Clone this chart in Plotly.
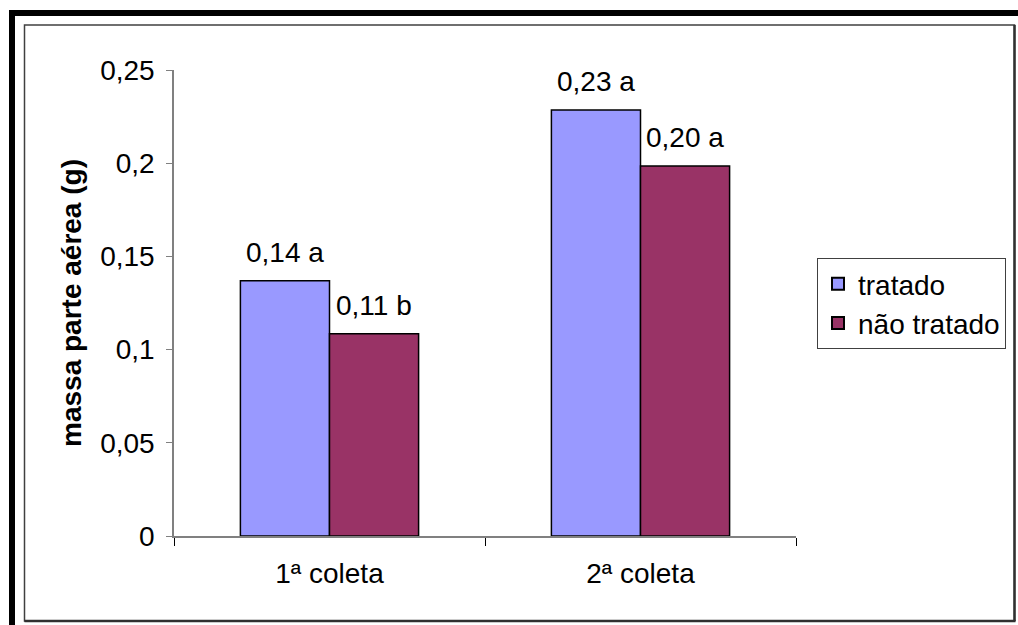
import plotly.graph_objects as go

# Data: shoot mass (g) per sampling and treatment, with significance letters
coletas = ["1ª coleta", "2ª coleta"]
tratado = [0.137, 0.2285]
nao_tratado = [0.1085, 0.1985]
letras_tratado = ["a", "a"]
letras_nao_tratado = ["b", "a"]
series_names = ["tratado", "não tratado"]
y_ticks = [0, 0.05, 0.1, 0.15, 0.2, 0.25]

W, H = 1018, 625
M_L, M_R, M_T, M_B = 174, 222, 70, 89
BARGAP = 0.427
FONT = "Liberation Sans, Arial, sans-serif"
FS = 28

fig = go.Figure()
colors = ["#9999FF", "#993366"]
for name, vals, col in zip(series_names, [tratado, nao_tratado], colors):
    fig.add_trace(go.Bar(
        x=coletas, y=vals, name=name,
        marker=dict(color=col, line=dict(color="black", width=1.5)),
    ))

# value labels above each bar, centred on the bar inside its group
plot_w = W - M_L - M_R
bar_w = plot_w / len(coletas) * (1 - BARGAP) / 2
for k, (vals, letters) in enumerate([(tratado, letras_tratado), (nao_tratado, letras_nao_tratado)]):
    shift = (k - 0.5) * bar_w
    for cat, v, let in zip(coletas, vals, letters):
        txt = f"{v:.2f}".replace(".", ",") + " " + let
        fig.add_annotation(
            x=cat, y=v, xref="x", yref="y", text=txt, showarrow=False,
            xshift=shift, yshift=11, yanchor="bottom",
            font=dict(family=FONT, size=FS, color="black"),
        )

def px_x(px):
    return (px - M_L) / plot_w

def px_y(py):
    return (H - M_B - py) / (H - M_T - M_B)

shapes = [
    # inner frame
    dict(type="rect", xref="paper", yref="paper",
         x0=px_x(24.5), x1=px_x(1014.5), y0=px_y(621), y1=px_y(25),
         line=dict(color="#404040", width=1.5), layer="below"),
    dict(type="line", xref="paper", yref="paper",
         x0=px_x(1014.5), x1=px_x(1014.5), y0=px_y(621), y1=px_y(25),
         line=dict(color="#303030", width=2.5)),
    dict(type="line", xref="paper", yref="paper",
         x0=px_x(24.5), x1=px_x(1015.5), y0=px_y(621), y1=px_y(621),
         line=dict(color="#303030", width=2.5)),
    # heavy outer border (top and left)
    dict(type="rect", xref="paper", yref="paper",
         x0=px_x(9), x1=px_x(1018), y0=px_y(16), y1=px_y(10),
         fillcolor="black", line=dict(width=0)),
    dict(type="rect", xref="paper", yref="paper",
         x0=px_x(9), x1=px_x(15), y0=px_y(625), y1=px_y(10),
         fillcolor="black", line=dict(width=0)),
]

fig.update_layout(
    width=W, height=H,
    margin=dict(l=M_L, r=M_R, t=M_T, b=M_B, autoexpand=False),
    paper_bgcolor="white", plot_bgcolor="white",
    separators=",.",
    barmode="group", bargap=BARGAP, bargroupgap=0,
    font=dict(family=FONT, size=FS, color="black"),
    showlegend=True,
    legend=dict(
        x=px_x(817), y=px_y(258), xanchor="left", yanchor="top",
        bordercolor="#404040", borderwidth=1, bgcolor="white",
        font=dict(family=FONT, size=FS, color="black"),
        itemsizing="constant", traceorder="normal",
    ),
    shapes=shapes,
)

fig.update_xaxes(
    showline=True, linecolor="#808080", linewidth=1.5,
    ticks="outside", tickson="boundaries", ticklen=8, tickcolor="black", tickwidth=1,
    ticklabelstandoff=12, showgrid=False,
    tickfont=dict(family=FONT, size=FS, color="black"),
)
fig.update_yaxes(
    range=[0, 0.25], tickvals=y_ticks,
    showline=True, linecolor="#808080", linewidth=1.5,
    ticks="outside", ticklen=6, tickcolor="#808080", tickwidth=1,
    ticklabelstandoff=6,
    showgrid=False, zeroline=False,
    tickfont=dict(family=FONT, size=FS, color="black"),
    title=dict(text="<b>massa parte aérea (g)</b>", standoff=10,
               font=dict(family=FONT, size=FS, color="black")),
)

fig.write_html("out.html")
